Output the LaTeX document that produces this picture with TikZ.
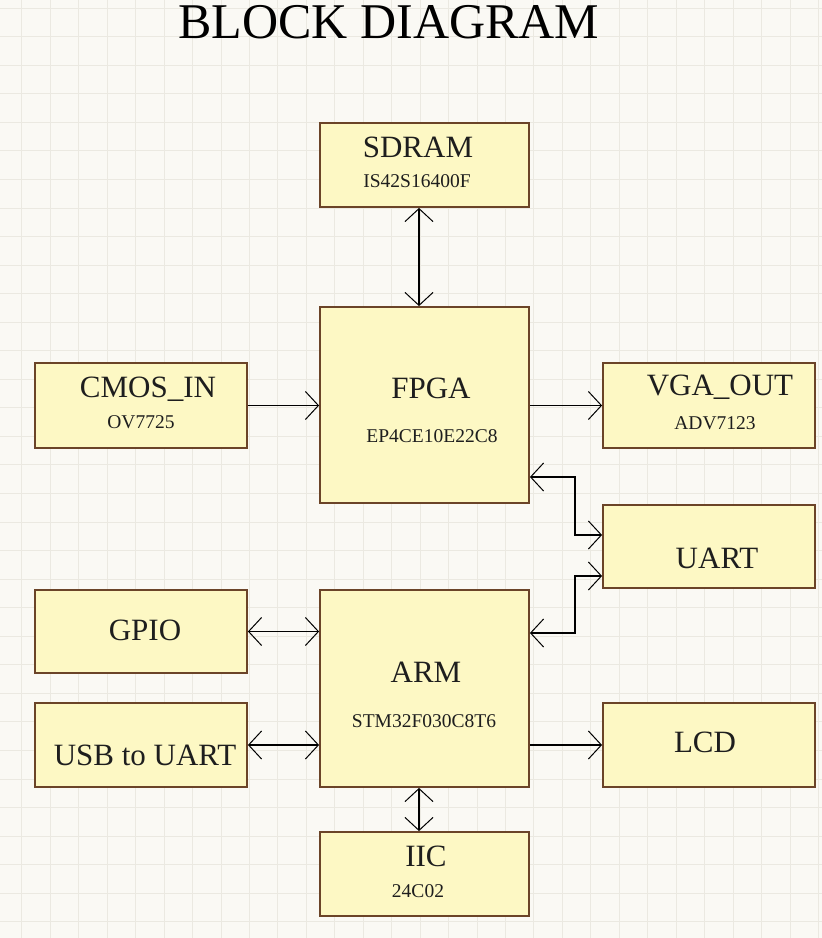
\documentclass[tikz,border=0pt]{standalone}
\usepackage{fontspec}
\setmainfont{Liberation Serif}
\usepackage{tikz}
\usetikzlibrary{arrows.meta}

\definecolor{paper}{HTML}{FAF9F4}
\definecolor{gridcol}{HTML}{EBE9E1}
\definecolor{boxfill}{HTML}{FDF8C4}
\definecolor{boxedge}{HTML}{6B4428}
\definecolor{ink}{HTML}{1E1E1E}

\tikzset{
  block/.style={draw=boxedge,fill=boxfill,line width=1.8pt,rectangle,inner sep=0pt},
  mainlbl/.style={anchor=base,text=ink,font=\fontsize{31}{36}\selectfont},
  sublbl/.style={anchor=base,text=ink,font=\fontsize{19.5}{23}\selectfont},
  wire/.style={draw=black,line width=1.6pt},
  oneway/.style={wire,-{Straight Barb[length=13pt,width=28pt,line width=1pt]}},
  twoway/.style={wire,{Straight Barb[length=13pt,width=28pt,line width=1pt]}-{Straight Barb[length=13pt,width=28pt,line width=1pt]}}
}

\begin{document}
\begin{tikzpicture}[x=1pt,y=-1pt]
      % paper and grid
      \fill[paper] (0,0) rectangle (822,938);
      \useasboundingbox (0,0) rectangle (822,938);
      \foreach \x in {0,...,28} {
        \draw[gridcol,line width=0.7pt] (21.7+\x*28.45,0) -- ++(0,938);
      }
      \foreach \y in {0,...,32} {
        \draw[gridcol,line width=0.7pt] (0,8+\y*28.55) -- ++(822,0);
      }

      \node[anchor=base,text=black,font=\fontsize{50}{56}\selectfont] (title) at (389,38) {BLOCK DIAGRAM};

      % blocks
      \node[block,minimum width=209pt,minimum height=84pt] (sdram) at (424.5,165) {};
      \node[block,minimum width=209pt,minimum height=196pt] (fpga) at (424.5,405) {};
      \node[block,minimum width=212pt,minimum height=85pt] (cmos) at (141,405.5) {};
      \node[block,minimum width=212pt,minimum height=85pt] (vga) at (709,405.5) {};
      \node[block,minimum width=212pt,minimum height=83pt] (uart) at (709,546.5) {};
      \node[block,minimum width=212pt,minimum height=83pt] (gpio) at (141,631.5) {};
      \node[block,minimum width=209pt,minimum height=197pt] (arm) at (424.5,688.5) {};
      \node[block,minimum width=212pt,minimum height=84pt] (usb) at (141,745) {};
      \node[block,minimum width=212pt,minimum height=84pt] (lcd) at (709,745) {};
      \node[block,minimum width=209pt,minimum height=84pt] (iic) at (424.5,874) {};

      % labels
      \node[mainlbl] (sdramname) at (418,157) {SDRAM};
      \node[sublbl] (sdrampart) at (417,187) {IS42S16400F};
      \node[mainlbl] (fpganame) at (431,398) {FPGA};
      \node[sublbl] (fpgapart) at (432,442) {EP4CE10E22C8};
      \node[mainlbl] (cmosname) at (148,397) {CMOS\_IN};
      \node[sublbl] (cmospart) at (141,428) {OV7725};
      \node[mainlbl] (vganame) at (720,395) {VGA\_OUT};
      \node[sublbl] (vgapart) at (715,429) {ADV7123};
      \node[mainlbl] (uartname) at (717,568) {UART};
      \node[mainlbl] (gpioname) at (145,640) {GPIO};
      \node[mainlbl] (armname) at (426,682) {ARM};
      \node[sublbl] (armpart) at (424,727) {STM32F030C8T6};
      \node[mainlbl] (usbname) at (145,765) {USB to UART};
      \node[mainlbl] (lcdname) at (705,752) {LCD};
      \node[mainlbl] (iicname) at (426,866) {IIC};
      \node[sublbl] (iicpart) at (418,897) {24C02};

      % connections
      \draw[twoway] ([xshift=-5.5pt]sdram.south) -- ([xshift=-5.5pt]fpga.north);
      \draw[oneway] (cmos.east) -- (cmos.east -| fpga.west);
      \draw[oneway] (fpga.east |- vga.west) -- (vga.west);
      \draw[twoway] ([yshift=-72pt]fpga.east) -- ++(45,0) |- ([yshift=11.5pt]uart.west);
      \draw[twoway] ([yshift=55.5pt]arm.east) -- ++(45,0) |- ([yshift=-29.5pt]uart.west);
      \draw[twoway] (gpio.east) -- (gpio.east -| arm.west);
      \draw[twoway] (usb.east) -- (usb.east -| arm.west);
      \draw[oneway] (arm.east |- lcd.west) -- (lcd.west);
      \draw[twoway] ([xshift=-5.5pt]arm.south) -- ([xshift=-5.5pt]iic.north);
    \end{tikzpicture}
\end{document}
